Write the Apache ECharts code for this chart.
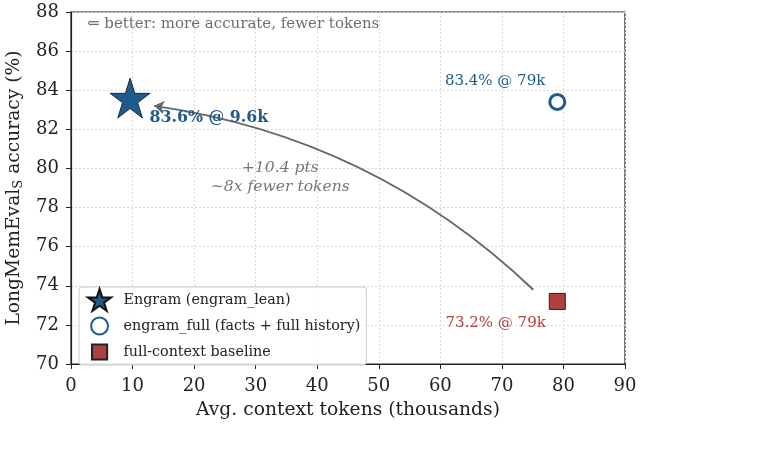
<!DOCTYPE html>
<html>
<head>
<meta charset="utf-8">
<script src="https://cdn.jsdelivr.net/npm/echarts@6/dist/echarts.min.js"></script>
<style>
  html, body { margin: 0; padding: 0; background: #fff; }
  #chart { width: 784px; height: 474px; }
</style>
</head>
<body>
<div id="chart"></div>
<script>
// data
const leanPoint = [9.6, 83.6];     // Engram (engram_lean)
const fullPoint = [79, 83.4];      // engram_full
const basePoint = [79, 73.2];      // full-context baseline
const arrowPath = [[75.1, 73.8], [13.5, 83.2]];
const notePoint = [34, 79.55];

const SERIF = "'DejaVu Serif', serif";
const BLUE = '#1f5a8c';
const RED = '#b04040';
const GRAY = '#6e6e6e';
const STAR = 'path://M0,-1 L0.2245,-0.309 L0.951,-0.309 L0.363,0.118 L0.588,0.809 L0,0.382 L-0.588,0.809 L-0.363,0.118 L-0.951,-0.309 L-0.2245,-0.309 Z';
// legend icons with empty margin so they come out smaller than the star
const RING = 'path://M-1.3,-1.3 M1.3,1.3 M-1,0 A1,1 0 1,1 1,0 A1,1 0 1,1 -1,0 Z';
const BOX = 'path://M-1.45,-1.45 M1.45,1.45 M-1,-1 L1,-1 L1,1 L-1,1 Z';

const chart = echarts.init(document.getElementById('chart'), null, { renderer: 'canvas' });

const option = {
  animation: false,
  textStyle: { fontFamily: SERIF },
  grid: {
    left: 71, right: 159, top: 12, bottom: 110,
    outerBoundsMode: 'none', containLabel: false,
    show: true, borderColor: '#222', borderWidth: 1.2, backgroundColor: '#fff'
  },
  xAxis: {
    type: 'value', min: 0, max: 90, interval: 10,
    name: 'Avg. context tokens (thousands)',
    nameLocation: 'middle', nameGap: 37,
    nameTextStyle: { fontSize: 18.7, color: '#222', fontFamily: SERIF },
    axisLine: { show: true, lineStyle: { color: '#222', width: 1.2 } },
    axisTick: { show: true, length: 5, lineStyle: { color: '#222' } },
    axisLabel: { fontSize: 18, color: '#222', fontFamily: SERIF, margin: 13 },
    splitLine: { show: true, lineStyle: { color: '#d8d8d8', type: [2, 2] } }
  },
  yAxis: {
    type: 'value', min: 70, max: 88, interval: 2,
    name: 'LongMemEval{sub|S} accuracy (%)',
    nameLocation: 'middle', nameGap: 41,
    nameTextStyle: {
      fontSize: 18.7, color: '#222', fontFamily: SERIF,
      rich: { sub: { fontSize: 13, verticalAlign: 'bottom', padding: [9, 0, 0, 0], fontFamily: SERIF, color: '#222' } }
    },
    axisLine: { show: true, lineStyle: { color: '#222', width: 1.2 } },
    axisTick: { show: true, length: 5, lineStyle: { color: '#222' } },
    axisLabel: { fontSize: 18, color: '#222', fontFamily: SERIF, margin: 12 },
    splitLine: { show: true, lineStyle: { color: '#d8d8d8', type: [2, 2] } }
  },
  legend: {
    left: 79, top: 287,
    orient: 'vertical',
    itemWidth: 38, itemHeight: 22, itemGap: 2,
    padding: [1, 6, 1, 8],
    backgroundColor: 'rgba(255,255,255,0.85)',
    borderColor: '#cccccc', borderWidth: 1, borderRadius: 3,
    textStyle: { fontSize: 14.3, color: '#222', fontFamily: SERIF },
    data: [
      { name: 'Engram (engram_lean)', icon: STAR },
      { name: 'engram_full (facts + full history)', icon: RING },
      { name: 'full-context baseline', icon: BOX }
    ]
  },
  graphic: [
    {
      type: 'text', left: 87, top: 17,
      style: { text: '⇐ better: more accurate, fewer tokens', fill: GRAY, font: '15px ' + SERIF }
    }
  ],
  series: [
    {
      name: 'arrow', type: 'lines', coordinateSystem: 'cartesian2d',
      silent: true, z: 3,
      symbol: ['none', 'arrow'], symbolSize: 10,
      lineStyle: { color: '#666', width: 2, curveness: -0.16, opacity: 1 },
      data: [{ coords: arrowPath }]
    },
    {
      name: 'note', type: 'scatter', symbolSize: 0, silent: true,
      data: [notePoint],
      label: {
        show: true, position: 'inside',
        formatter: '+10.4 pts\n~8x fewer tokens',
        fontStyle: 'italic', fontSize: 15.6, lineHeight: 19, color: '#555', fontFamily: SERIF
      }
    },
    {
      name: 'Engram (engram_lean)', type: 'scatter', z: 5,
      symbol: STAR, symbolSize: 40,
      itemStyle: { color: BLUE, borderColor: '#111', borderWidth: 0.8, opacity: 1 },
      data: [leanPoint],
      label: {
        show: true, position: 'right', offset: [-6, 20],
        formatter: '83.6% @ 9.6k', fontWeight: 'bold', fontSize: 15.8, color: BLUE, fontFamily: SERIF
      }
    },
    {
      name: 'engram_full (facts + full history)', type: 'scatter', z: 5,
      symbol: 'circle', symbolSize: 15,
      itemStyle: { color: '#fff', borderColor: BLUE, borderWidth: 3, opacity: 1 },
      data: [fullPoint],
      label: {
        show: true, position: 'left', offset: [2, -21],
        formatter: '83.4% @ 79k', fontSize: 15, color: BLUE, fontFamily: SERIF
      }
    },
    {
      name: 'full-context baseline', type: 'scatter', z: 5,
      symbol: 'rect', symbolSize: 16,
      itemStyle: { color: RED, borderColor: '#222', borderWidth: 1, opacity: 1 },
      data: [basePoint],
      label: {
        show: true, position: 'left', offset: [2, 22],
        formatter: '73.2% @ 79k', fontSize: 15, color: RED, fontFamily: SERIF
      }
    }
  ]
};

chart.setOption(option);
</script>
</body>
</html>
